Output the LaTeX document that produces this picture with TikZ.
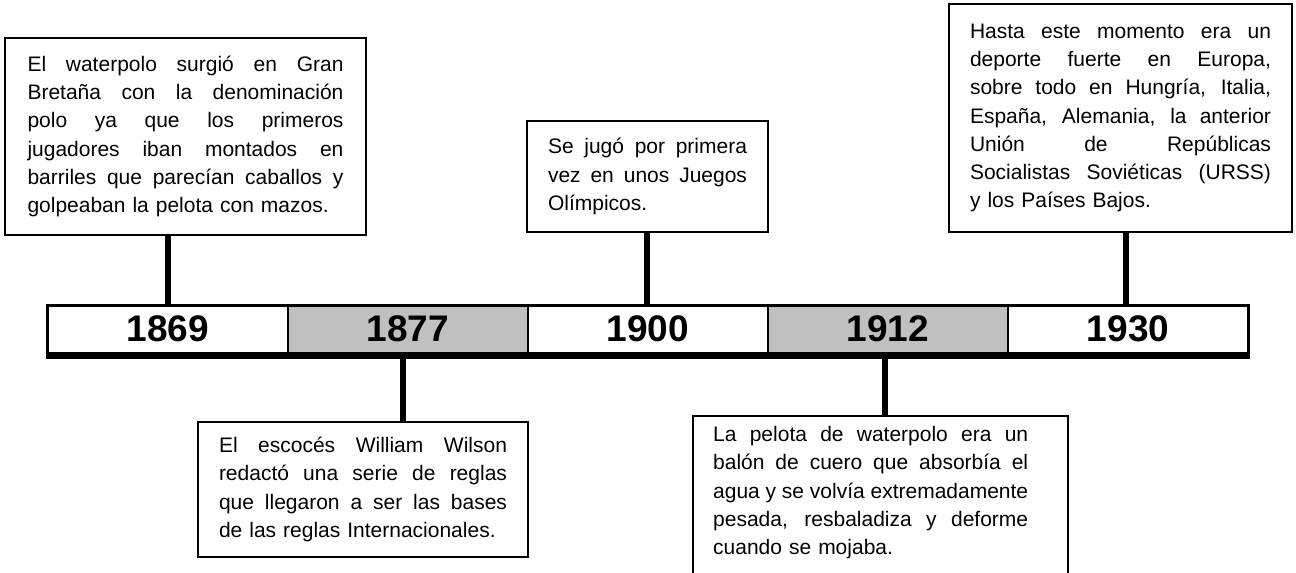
\documentclass[tikz,border=0pt]{standalone}
\usepackage{fontspec}
\setmainfont{Liberation Sans}
\newcommand{\jl}[1]{\makebox[\hsize][s]{\spaceskip=0pt\xspaceskip=0pt\relax #1}\\}
\begin{document}
\begin{tikzpicture}[x=1pt,y=-1pt,
  box/.style={draw=black, line width=1.5pt, fill=white, inner sep=0pt,
    font=\fontsize{21}{28.3}\selectfont, align=left},
  boxtext/.style={inner sep=0pt, font=\fontsize{21}{28.3}\selectfont, align=left},
  yearcell/.style={draw=black, line width=2pt, minimum width=240pt, minimum height=51pt,
    inner sep=0pt, text depth=6pt, font=\fontsize{37}{40}\selectfont\bfseries},
  greycell/.style={yearcell, fill=cellgrey},
  whitecell/.style={yearcell, fill=white},
  stem/.style={line width=6.5pt, draw=black}]
\definecolor{cellgrey}{HTML}{C0C0C0}
\useasboundingbox (0,0) rectangle (1296,573);
\clip (0,0) rectangle (1296,573);
\fill[white] (0,0) rectangle (1296,573);

% text boxes
\node[box, text width=316pt, minimum width=361pt, minimum height=197pt] (b1) at (185.5,136.5) {%
\jl{El waterpolo surgió en Gran}
\jl{Bretaña con la denominación}
\jl{polo ya que los primeros}
\jl{jugadores iban montados en}
\jl{barriles que parecían caballos y}
golpeaban la pelota con mazos.};

\node[box, text width=199pt, minimum width=241pt, minimum height=111pt] (b3) at (647.5,176.5) {%
\jl{Se jugó por primera}
\jl{vez en unos Juegos}
Olímpicos.};

\node[box, text width=301pt, minimum width=343pt, minimum height=228pt] (b5) at (1120.5,118) {%
\jl{Hasta este momento era un}
\jl{deporte fuerte en Europa,}
\jl{sobre todo en Hungría, Italia,}
\jl{España, Alemania, la anterior}
\jl{Unión de Repúblicas}
\jl{Socialistas Soviéticas (URSS)}
y los Países Bajos.};

\node[box, text width=288pt, minimum width=330pt, minimum height=135pt] (b2) at (363,489.5) {%
\jl{El escocés William Wilson}
\jl{redactó una serie de reglas}
\jl{que llegaron a ser las bases}
de las reglas Internacionales.};

\node[box, minimum width=375pt, minimum height=190pt, anchor=north west] (b4) at (692,415) {};
\node[boxtext, text width=315pt, anchor=north west] (t4) at (713,426) {%
\jl{La pelota de waterpolo era un}
\jl{balón de cuero que absorbía el}
\jl{agua y se volvía extremadamente}
\jl{pesada, resbaladiza y deforme}
cuando se mojaba.};

% timeline cells
\node[whitecell] (s1) at (168,331.5) {1869};
\node[greycell]  (s2) at (408,331.5) {1877};
\node[whitecell] (s3) at (648,331.5) {1900};
\node[greycell]  (s4) at (888,331.5) {1912};
\node[whitecell] (s5) at (1128,331.5) {1930};
\draw[line width=2.5pt] (s1.north west) rectangle (s5.south east);
\draw[line width=6pt] ([yshift=3pt]s1.south west) -- ([yshift=3pt]s5.south east);

% connectors
\draw[stem] (s1.north) -- (s1.north |- b1.south);
\draw[stem] ([xshift=-1pt]s3.north) -- ([xshift=-1pt]s3.north |- b3.south);
\draw[stem] ([xshift=-2pt]s5.north) -- ([xshift=-2pt]s5.north |- b5.south);
\draw[stem] ([xshift=-5pt]s2.south) -- ([xshift=-5pt]s2.south |- b2.north);
\draw[stem] ([xshift=-3pt]s4.south) -- ([xshift=-3pt]s4.south |- b4.north);
\end{tikzpicture}
\end{document}
